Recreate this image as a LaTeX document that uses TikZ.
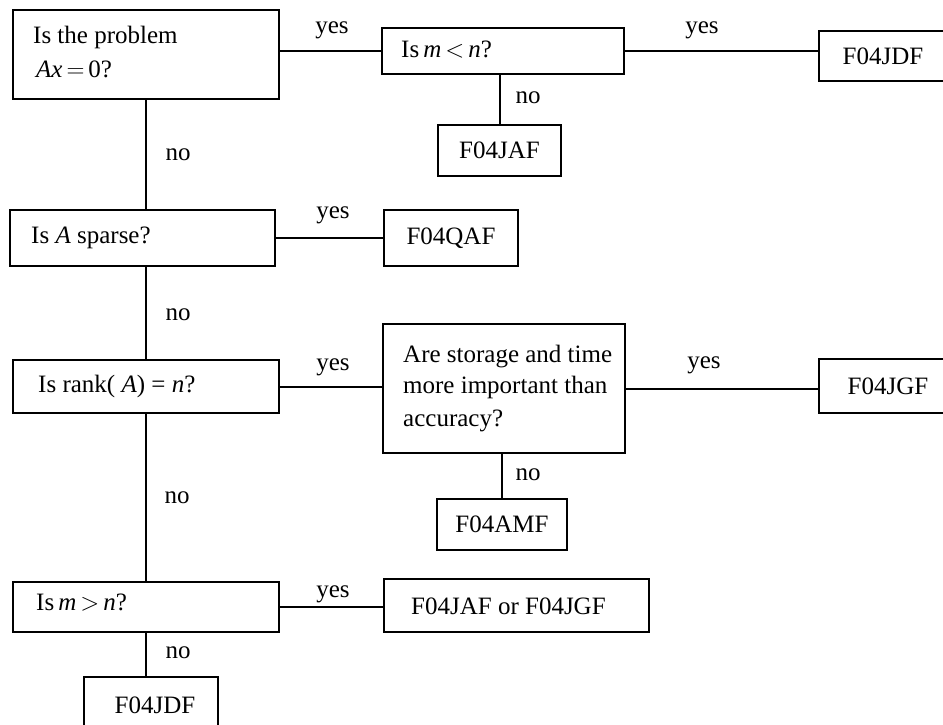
\documentclass[tikz,border=0pt]{standalone}
\usepackage{fontspec}
\setmainfont{Liberation Serif}
\begin{document}
\begin{tikzpicture}[x=1pt,y=-1pt,
  box/.style={draw,line width=2pt,inner sep=0pt,font=\fontsize{25}{30}\selectfont},
  txt/.style={inner sep=0pt,anchor=base west,font=\fontsize{25}{30}\selectfont},
  lbl/.style={inner sep=0pt,anchor=base,font=\fontsize{25}{30}\selectfont},
  conn/.style={line width=2pt}]
\useasboundingbox (0,0) rectangle (943,724);
\clip (0,0) rectangle (943,724);
% question boxes
\node[box,minimum width=266pt,minimum height=89pt] (q1) at (146,54.5) {};
\node[box,minimum width=242pt,minimum height=46pt] (q2) at (503,51) {};
\node[box,minimum width=265pt,minimum height=56pt] (q3) at (142.5,238) {};
\node[box,minimum width=266pt,minimum height=53pt] (q4) at (146,386.5) {};
\node[box,minimum width=242pt,minimum height=129pt] (q5) at (504,388.5) {};
\node[box,minimum width=266pt,minimum height=50pt] (q6) at (146,607) {};
% result boxes
\node[box,minimum width=150pt,minimum height=50pt] (r1) at (894,56) {};
\node[box,minimum width=123pt,minimum height=51pt] (r2) at (499.5,150.5) {F04JAF};
\node[box,minimum width=134pt,minimum height=56pt] (r3) at (451,238) {F04QAF};
\node[box,minimum width=150pt,minimum height=54pt] (r4) at (894,386) {};
\node[box,minimum width=130pt,minimum height=51pt] (r5) at (502,524.5) {F04AMF};
\node[box,minimum width=265pt,minimum height=53pt] (r6) at (516.5,605.5) {};
\node[box,minimum width=134pt,minimum height=66pt] (r7) at (151,710) {};
% texts
\node[txt] (t1a) at (33,43) {Is the problem};
\node[txt] (t1b) at (36,77) {\textit{Ax}\kern4pt$=$\kern4pt0?};
\node[txt] (t2) at (401,57) {Is\kern4pt\textit{m}\kern4pt$<$\kern4pt\textit{n}?};
\node[txt] (t3) at (31,243) {Is \textit{A} sparse?};
\node[txt] (t4) at (38,392) {Is rank( \textit{A}) = \textit{n}?};
\node[txt] (t5a) at (403,362) {Are storage and time};
\node[txt] (t5b) at (403,393) {more important than};
\node[txt] (t5c) at (403,426) {accuracy?};
\node[txt] (t6) at (36,610) {Is\kern4pt\textit{m}\kern4pt$>$\kern4pt\textit{n}?};
\node[lbl] (tr1) at (883,64) {F04JDF};
\node[lbl] (tr4) at (888,394) {F04JGF};
\node[txt] (tr6) at (411,614) {F04JAF or F04JGF};
\node[lbl] (tr7) at (155,713) {F04JDF};
% connectors
\draw[conn] (q2.west -| q1.east) -- (q2.west);
\draw[conn] (q2.east) -- (q2.east -| r1.west);
\draw[conn] (r2.north |- q2.south) -- (r2.north);
\draw[conn] (q1.south) -- (q1.south |- q3.north);
\draw[conn] (q3.east) -- (q3.east -| r3.west);
\draw[conn] (q4.north |- q3.south) -- (q4.north);
\draw[conn] (q4.east) -- (q4.east -| q5.west);
\draw[conn] (q5.east) -- (q5.east -| r4.west);
\draw[conn] (r5.north |- q5.south) -- (r5.north);
\draw[conn] (q4.south) -- (q6.north);
\draw[conn] (q6.east) -- (q6.east -| r6.west);
\draw[conn] (r7.north -| q6.south) -- (q6.south);
% branch labels
\node[lbl] (y1) at (332,33) {yes};
\node[lbl] (y2) at (702,33) {yes};
\node[lbl] (n2) at (528,103) {no};
\node[lbl] (n1) at (178,160) {no};
\node[lbl] (y3) at (333,218) {yes};
\node[lbl] (n3) at (178,320) {no};
\node[lbl] (y4) at (333,370) {yes};
\node[lbl] (y5) at (704,368) {yes};
\node[lbl] (n5) at (528,480) {no};
\node[lbl] (n4) at (177,503) {no};
\node[lbl] (y6) at (333,597) {yes};
\node[lbl] (n6) at (178,658) {no};
\end{tikzpicture}
\end{document}
